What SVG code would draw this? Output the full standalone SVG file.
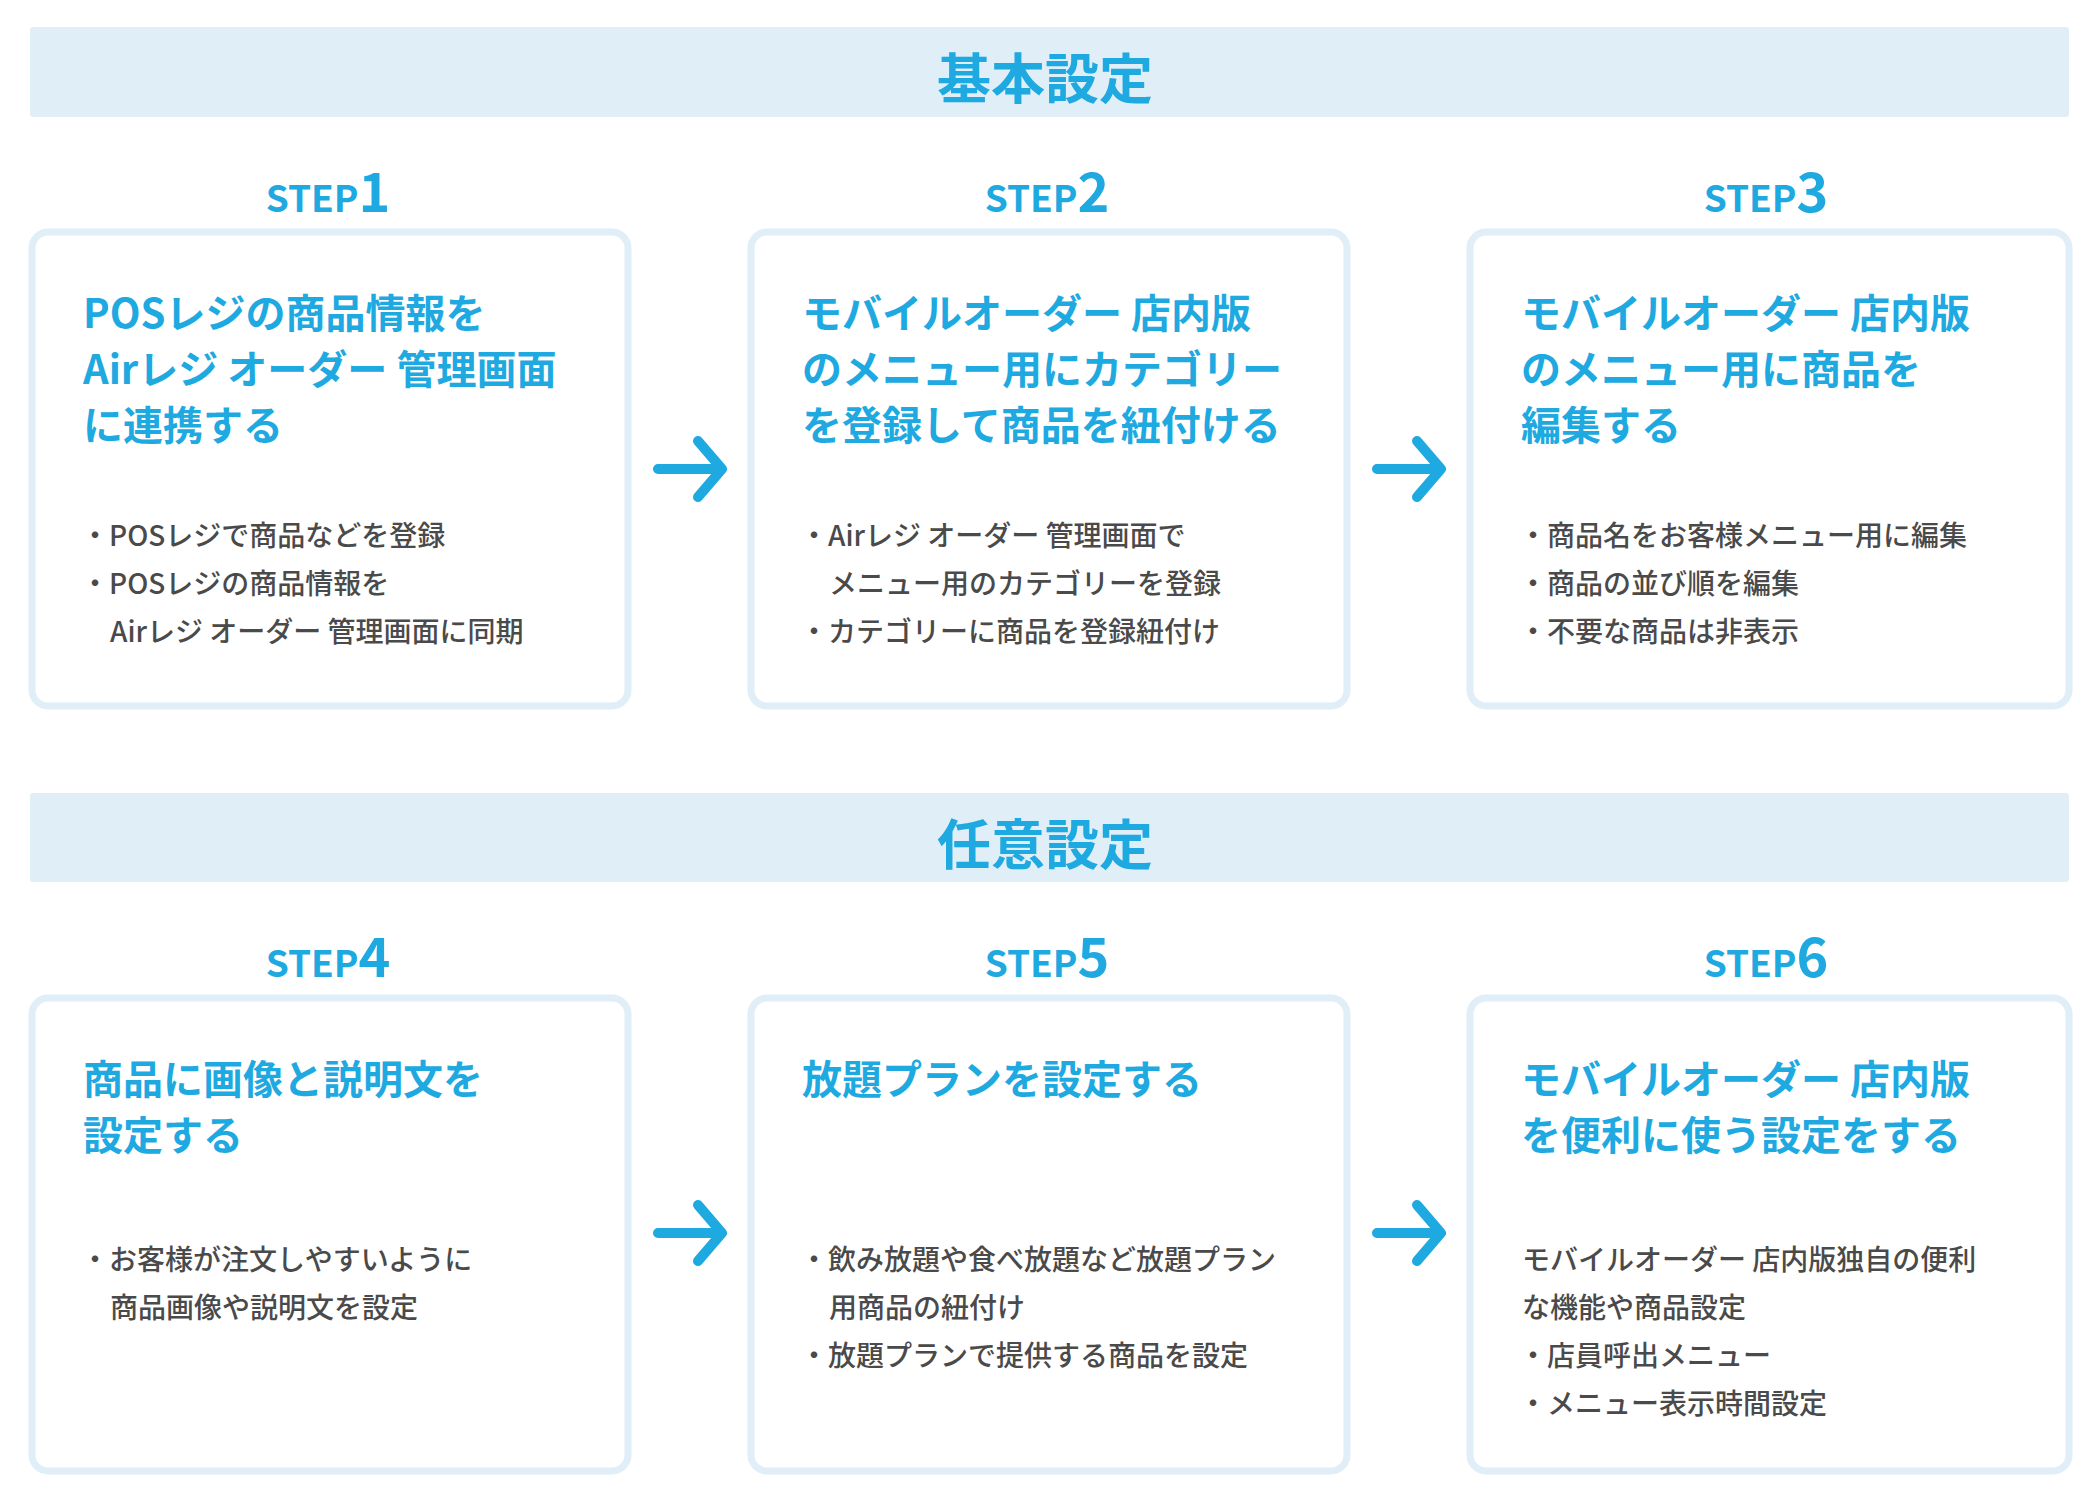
<svg xmlns="http://www.w3.org/2000/svg" width="2100" height="1500" viewBox="0 0 2100 1500">
<style>
.band{fill:#e0eef8}
.box{fill:#fff;stroke:#e0eef8;stroke-width:7}
.h{font-family:"Noto Sans CJK JP",sans-serif;font-weight:700;font-size:54px;fill:#1fa9e1;text-anchor:middle}
.step{font-family:"Noto Sans CJK JP",sans-serif;font-weight:700;font-size:37px;fill:#1fa9e1;text-anchor:middle}
.step tspan{font-size:54px}
.t{font-family:"Noto Sans CJK JP",sans-serif;font-weight:700;font-size:40px;fill:#1fa9e1}
.b{font-family:"Noto Sans CJK JP",sans-serif;font-weight:500;font-size:28px;fill:#4a4a4a}
.arr{fill:none;stroke:#1fa9e1;stroke-width:10;stroke-linecap:round;stroke-linejoin:round}
</style>
<g id="header1"><rect class="band" x="30" y="27" width="2039" height="90" rx="3"/><text class="h" x="1045" y="99">基本設定</text></g>
<g id="header2"><rect class="band" x="30" y="793" width="2039" height="89" rx="3"/><text class="h" x="1045" y="865">任意設定</text></g>

<g id="step1">
<text class="step" x="328" y="212">STEP<tspan>1</tspan></text>
<rect class="box" x="32" y="232" width="596" height="474" rx="16"/>
<text class="t" x="83" y="328">POSレジの商品情報を</text>
<text class="t" x="83" y="384">Airレジ オーダー 管理画面</text>
<text class="t" x="83" y="440">に連携する</text>
<text class="b" x="81" y="546">・POSレジで商品などを登録</text>
<text class="b" x="81" y="594">・POSレジの商品情報を</text>
<text class="b" x="110" y="642">Airレジ オーダー 管理画面に同期</text>
</g>
<g id="step2">
<text class="step" x="1047" y="212">STEP<tspan>2</tspan></text>
<rect class="box" x="751" y="232" width="596" height="474" rx="16"/>
<text class="t" x="802" y="328">モバイルオーダー 店内版</text>
<text class="t" x="802" y="384">のメニュー用にカテゴリー</text>
<text class="t" x="802" y="440">を登録して商品を紐付ける</text>
<text class="b" x="800" y="546">・Airレジ オーダー 管理画面で</text>
<text class="b" x="829" y="594">メニュー用のカテゴリーを登録</text>
<text class="b" x="800" y="642">・カテゴリーに商品を登録紐付け</text>
</g>
<g id="step3">
<text class="step" x="1766" y="212">STEP<tspan>3</tspan></text>
<rect class="box" x="1470" y="232" width="599" height="474" rx="16"/>
<text class="t" x="1521" y="328">モバイルオーダー 店内版</text>
<text class="t" x="1521" y="384">のメニュー用に商品を</text>
<text class="t" x="1521" y="440">編集する</text>
<text class="b" x="1519" y="546">・商品名をお客様メニュー用に編集</text>
<text class="b" x="1519" y="594">・商品の並び順を編集</text>
<text class="b" x="1519" y="642">・不要な商品は非表示</text>
</g>
<g id="step4">
<text class="step" x="328" y="977">STEP<tspan>4</tspan></text>
<rect class="box" x="32" y="998" width="596" height="473" rx="16"/>
<text class="t" x="83" y="1094">商品に画像と説明文を</text>
<text class="t" x="83" y="1150">設定する</text>
<text class="b" x="81" y="1270">・お客様が注文しやすいように</text>
<text class="b" x="110" y="1318">商品画像や説明文を設定</text>
</g>
<g id="step5">
<text class="step" x="1047" y="977">STEP<tspan>5</tspan></text>
<rect class="box" x="751" y="998" width="596" height="473" rx="16"/>
<text class="t" x="802" y="1094">放題プランを設定する</text>
<text class="b" x="800" y="1270">・飲み放題や食べ放題など放題プラン</text>
<text class="b" x="829" y="1318">用商品の紐付け</text>
<text class="b" x="800" y="1366">・放題プランで提供する商品を設定</text>
</g>
<g id="step6">
<text class="step" x="1766" y="977">STEP<tspan>6</tspan></text>
<rect class="box" x="1470" y="998" width="599" height="473" rx="16"/>
<text class="t" x="1521" y="1094">モバイルオーダー 店内版</text>
<text class="t" x="1521" y="1150">を便利に使う設定をする</text>
<text class="b" x="1522" y="1270">モバイルオーダー 店内版独自の便利</text>
<text class="b" x="1522" y="1318">な機能や商品設定</text>
<text class="b" x="1519" y="1366">・店員呼出メニュー</text>
<text class="b" x="1519" y="1414">・メニュー表示時間設定</text>
</g>
<g id="connectors">
<path class="arr" d="M658 469H720M698 441L722 469L698 497"/>
<path class="arr" d="M1377 469H1439M1417 441L1441 469L1417 497"/>
<path class="arr" d="M658 1233H720M698 1205L722 1233L698 1261"/>
<path class="arr" d="M1377 1233H1439M1417 1205L1441 1233L1417 1261"/>
</g>
</svg>
